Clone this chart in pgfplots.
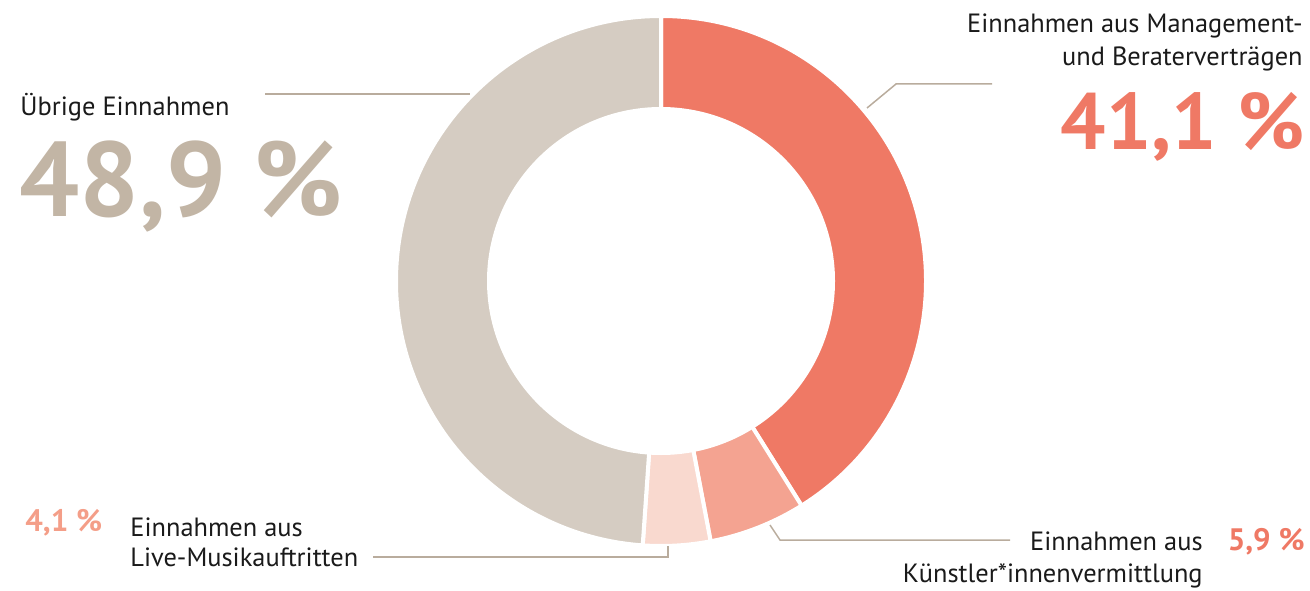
\documentclass[border=0pt]{standalone}
\usepackage{fontspec}
\setmainfont{PT Sans}
\usepackage{pgfplots}
\usepackage{pgfplotstable}
\pgfplotsset{compat=1.18}
\definecolor{cRed}{HTML}{EF7965}
\definecolor{cSalmon}{HTML}{F4A391}
\definecolor{cPink}{HTML}{F9D9CF}
\definecolor{cGray}{HTML}{D5CCC2}
\definecolor{cGrayTxt}{HTML}{C2B5A5}
\definecolor{cLine}{HTML}{B9AC9D}
\definecolor{cSalTxt}{HTML}{F49E88}
\definecolor{cTxt}{HTML}{1A1A1A}

\pgfplotstableread{
share
41.1
5.9
4.1
48.9
}\shares

\begin{document}
\begin{tikzpicture}
\pgfplotstablegetelem{0}{share}\of\shares \let\pA\pgfplotsretval
\pgfplotstablegetelem{1}{share}\of\shares \let\pB\pgfplotsretval
\pgfplotstablegetelem{2}{share}\of\shares \let\pC\pgfplotsretval
\pgfplotstablegetelem{3}{share}\of\shares \let\pD\pgfplotsretval
\pgfmathsetmacro\aA{90-3.6*\pA}
\pgfmathsetmacro\aB{\aA-3.6*\pB}
\pgfmathsetmacro\aC{\aB-3.6*\pC}
\pgfmathsetmacro\aD{\aC-3.6*\pD}
\begin{axis}[width=655pt, height=295pt, scale only axis,
  xmin=0, xmax=1310, ymin=0, ymax=590, axis lines=none, clip=false]
% donut sectors
\path[fill=cRed, draw=white, line width=2pt, line join=round]
  (axis cs:661,309) -- ++(90:132.5pt) arc[start angle=90, end angle=\aA, radius=132.5pt] -- cycle;
\path[fill=cSalmon, draw=white, line width=2pt, line join=round]
  (axis cs:661,309) -- ++(\aA:132.5pt) arc[start angle=\aA, end angle=\aB, radius=132.5pt] -- cycle;
\path[fill=cPink, draw=white, line width=2pt, line join=round]
  (axis cs:661,309) -- ++(\aB:132.5pt) arc[start angle=\aB, end angle=\aC, radius=132.5pt] -- cycle;
\path[fill=cGray, draw=white, line width=2pt, line join=round]
  (axis cs:661,309) -- ++(\aC:132.5pt) arc[start angle=\aC, end angle=\aD, radius=132.5pt] -- cycle;
\fill[white] (axis cs:661,309) circle[radius=87pt];
% leader lines
\addplot[cLine, line width=0.75pt, no marks] coordinates {(265,496) (470,496)};
\addplot[cLine, line width=0.75pt, no marks] coordinates {(867,482) (896,506) (992,506)};
\addplot[cLine, line width=0.75pt, no marks] coordinates {(373,33) (668,33) (668,44)};
\addplot[cLine, line width=0.75pt, no marks] coordinates {(770,65) (780,50) (1010,50)};
% labels
\node[anchor=base west, inner sep=0, text=cTxt, font=\fontsize{13.2}{15}\selectfont] at (axis cs:20,474) {Übrige Einnahmen};
\node[anchor=base west, inner sep=0, text=cGrayTxt, font=\fontsize{53}{58}\selectfont\bfseries] at (axis cs:19,373) {48,9 \%};
\node[anchor=base east, inner sep=0, text=cTxt, font=\fontsize{13.2}{15}\selectfont] at (axis cs:1303,557) {Einnahmen aus Management-};
\node[anchor=base east, inner sep=0, text=cTxt, font=\fontsize{13.2}{15}\selectfont] at (axis cs:1303,524) {und Beraterverträgen};
\node[anchor=base east, inner sep=0, text=cRed, font=\fontsize{40}{44}\selectfont\bfseries] at (axis cs:1305,440) {41,1 \%};
\node[anchor=base west, inner sep=0, text=cSalTxt, font=\fontsize{15.5}{17}\selectfont\bfseries] at (axis cs:25,59) {4,1 \%};
\node[anchor=base west, inner sep=0, text=cTxt, font=\fontsize{13.2}{15}\selectfont] at (axis cs:130,54) {Einnahmen aus};
\node[anchor=base west, inner sep=0, text=cTxt, font=\fontsize{13.2}{15}\selectfont] at (axis cs:130,24) {Live-Musikauftritten};
\node[anchor=base east, inner sep=0, text=cTxt, font=\fontsize{13.2}{15}\selectfont] at (axis cs:1203,40) {Einnahmen aus};
\node[anchor=base east, inner sep=0, text=cTxt, font=\fontsize{13.2}{15}\selectfont] at (axis cs:1203,8) {Künstler*innenvermittlung};
\node[anchor=base east, inner sep=0, text=cRed, font=\fontsize{15.5}{17}\selectfont\bfseries] at (axis cs:1305,40) {5,9 \%};
\end{axis}
\pgfresetboundingbox
\path (current axis.south west) rectangle (current axis.north east);
\end{tikzpicture}
\end{document}
